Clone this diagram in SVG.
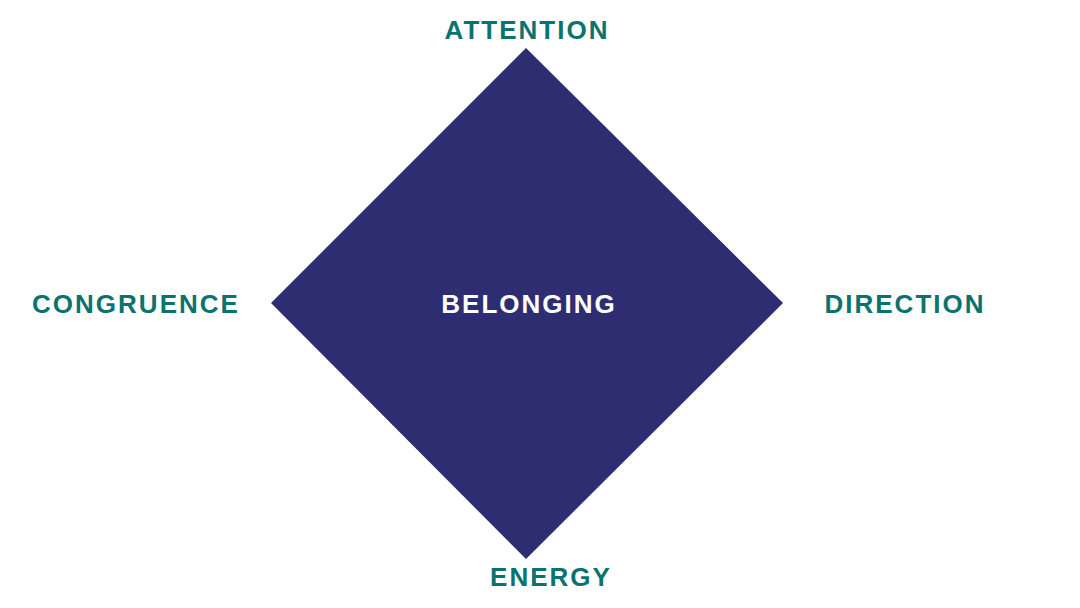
<svg xmlns="http://www.w3.org/2000/svg" width="1080" height="608" viewBox="0 0 1080 608">
<style>
.lbl{font-family:"Liberation Sans",Arial,sans-serif;font-weight:bold;font-size:26px;letter-spacing:2px;text-anchor:middle;fill:#0B736F}
.center{fill:#FFFFFF}
</style>
<rect width="1080" height="608" fill="#FFFFFF"/>
<g id="belonging">
<polygon points="526,48 783,303 526,559 271,303" fill="#2E2D72"/>
<text class="lbl center" x="529" y="313">BELONGING</text>
</g>
<g id="attention"><text class="lbl" x="527" y="39">ATTENTION</text></g>
<g id="congruence"><text class="lbl" x="136" y="313">CONGRUENCE</text></g>
<g id="direction"><text class="lbl" x="905" y="313">DIRECTION</text></g>
<g id="energy"><text class="lbl" x="551" y="586">ENERGY</text></g>
<g id="connectors"></g>
</svg>
